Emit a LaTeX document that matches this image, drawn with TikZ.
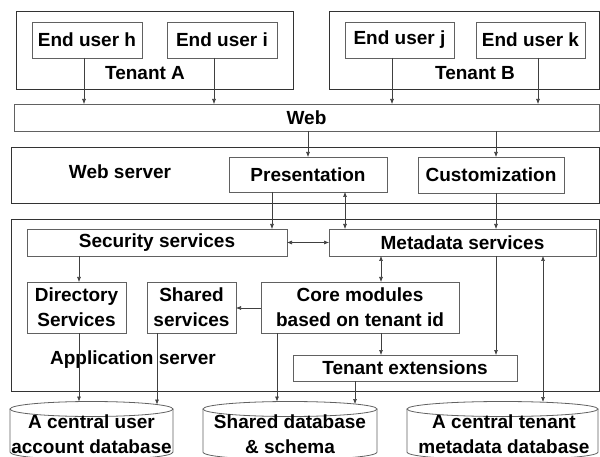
\documentclass[tikz,border=0pt]{standalone}
\usepackage{fontspec}
\setmainfont{Liberation Sans}
\usetikzlibrary{arrows.meta}
\definecolor{linec}{gray}{0.38}
\definecolor{framec}{gray}{0.2}
\definecolor{arrc}{gray}{0.25}
\begin{document}
\begin{tikzpicture}[x=1pt,y=-1pt,
  lbl/.style={font=\fontsize{19}{25}\selectfont\bfseries, align=center, inner sep=0pt},
  box/.style={draw=linec, line width=0.8pt, inner sep=0pt, outer sep=0pt, lbl},
  frame/.style={draw=framec, line width=0.8pt, inner sep=0pt, outer sep=0pt},
  arr/.style={draw=arrc, line width=0.6pt, -{Latex[length=5pt,width=4pt]}},
  darr/.style={draw=arrc, line width=0.6pt, {Latex[length=5pt,width=4pt]}-{Latex[length=5pt,width=4pt]}},
  dbline/.style={draw=linec, line width=0.8pt}]
\useasboundingbox (0,0) rectangle (600,457);
\clip (0,0) rectangle (600,457);

% tenants and their end users
\node[frame, minimum width=277pt, minimum height=78pt] (tenA) at (154.5,50) {};
\node[frame, minimum width=270pt, minimum height=78pt] (tenB) at (464,50) {};
\node[lbl] (tenAlbl) at (145,73) {Tenant A};
\node[lbl] (tenBlbl) at (475,73) {Tenant B};
\node[box, minimum width=110pt, minimum height=36pt] (userh) at (87,40) {End user h};
\node[box, minimum width=110pt, minimum height=36pt] (useri) at (222,40) {End user i};
\node[box, minimum width=109pt, minimum height=36pt] (userj) at (399.5,40) {End user j};
\node[box, minimum width=109pt, minimum height=36pt] (userk) at (530.5,40) {End user k};

% web layer
\node[box, minimum width=585pt, minimum height=27pt] (web) at (306.5,117.5) {Web};

% web server
\node[frame, minimum width=588pt, minimum height=56pt] (websrv) at (305,175) {};
\node[lbl] (websrvlbl) at (120,172) {Web server};
\node[box, minimum width=158pt, minimum height=35pt] (pres) at (308,174.5) {Presentation};
\node[box, minimum width=146pt, minimum height=36pt] (cust) at (491,175) {Customization};

% application server
\node[frame, minimum width=588pt, minimum height=172pt] (appsrv) at (305,305) {};
\node[lbl] (appsrvlbl) at (133,360) {Application server};
\node[box, minimum width=260pt, minimum height=27pt] (sec) at (157,242.5) {Security services};
\node[box, minimum width=267pt, minimum height=27pt] (meta) at (462.5,242.5) {Metadata services};
\node[box, minimum width=99pt, minimum height=51pt] (dir) at (76.5,307.5) {Directory\\Services};
\node[box, minimum width=89pt, minimum height=51pt] (shsrv) at (191.5,307.5) {Shared\\services};
\node[box, minimum width=198pt, minimum height=51pt] (core) at (360,307.5) {Core modules\\based on tenant id};
\node[box, minimum width=224pt, minimum height=26pt] (ext) at (405,368) {Tenant extensions};

% databases (cylinders)
\newcommand\dbcyl[4]{% left x, right x, top centre y, bottom centre y
  \pgfmathsetmacro\dbcx{(#1+#2)/2}
  \pgfmathsetmacro\dbrx{(#2-#1)/2}
  \draw[dbline] (\dbcx,#3) ellipse [x radius=\dbrx, y radius=7.5];
  \draw[dbline] (#1,#3) -- (#1,#4) .. controls (#1,#4+10) and (#2,#4+10) .. (#2,#4) -- (#2,#3);
}
\dbcyl{10}{173}{409}{452}
\dbcyl{203}{377}{409}{452}
\dbcyl{407}{598}{409}{452}
\node[lbl] (userdb) at (91.5,434.5) {A central user\\account database};
\node[lbl] (shdb) at (290,434.5) {Shared database\\\& schema};
\node[lbl] (tendb) at (504,434.5) {A central tenant\\metadata database};

% connector columns
\coordinate (xh) at (84,0);
\coordinate (xi) at (214,0);
\coordinate (xj) at (392,0);
\coordinate (xk) at (538,0);
\coordinate (xpres) at (308,0);
\coordinate (xcust) at (496,0);
\coordinate (xps) at (272,0);
\coordinate (xpm) at (345,0);
\coordinate (xdir) at (79,0);
\coordinate (xsh) at (157,0);
\coordinate (xcore) at (381,0);
\coordinate (xcdb) at (277,0);
\coordinate (xedb) at (355,0);
\coordinate (xmdb) at (543,0);
\coordinate (ycs) at (0,308);
\coordinate (ysm) at (0,242.5);

% ends on the top rims of the databases
\coordinate (udbA) at (79,401.5);
\coordinate (udbB) at (157,404.5);
\coordinate (sdbA) at (277,401.5);
\coordinate (sdbB) at (355,404);
\coordinate (tdbA) at (543,402);

% users to web
\draw[arr] (userh.south -| xh) -- (web.north -| xh);
\draw[arr] (useri.south -| xi) -- (web.north -| xi);
\draw[arr] (userj.south -| xj) -- (web.north -| xj);
\draw[arr] (userk.south -| xk) -- (web.north -| xk);

% web to web server
\draw[arr] (web.south -| xpres) -- (pres.north -| xpres);
\draw[arr] (web.south -| xcust) -- (cust.north -| xcust);

% web server to application server
\draw[arr] (pres.south -| xps) -- (sec.north -| xps);
\draw[darr] (pres.south -| xpm) -- (meta.north -| xpm);
\draw[arr] (cust.south -| xcust) -- (meta.north -| xcust);
\draw[darr] (sec.east |- ysm) -- (meta.west |- ysm);

% inside the application server
\draw[arr] (sec.south -| xdir) -- (dir.north -| xdir);
\draw[darr] (meta.south -| xcore) -- (core.north -| xcore);
\draw[arr] (core.west |- ycs) -- (shsrv.east |- ycs);
\draw[arr] (core.south -| xcore) -- (ext.north -| xcore);
\draw[arr] (meta.south -| xcust) -- (ext.north -| xcust);

% down to the databases
\draw[arr] (dir.south -| xdir) -- (udbA);
\draw[arr] (shsrv.south -| xsh) -- (udbB);
\draw[arr] (core.south -| xcdb) -- (sdbA);
\draw[arr] (ext.south -| xedb) -- (sdbB);
\draw[darr] (meta.south -| xmdb) -- (tdbA);
\end{tikzpicture}
\end{document}
